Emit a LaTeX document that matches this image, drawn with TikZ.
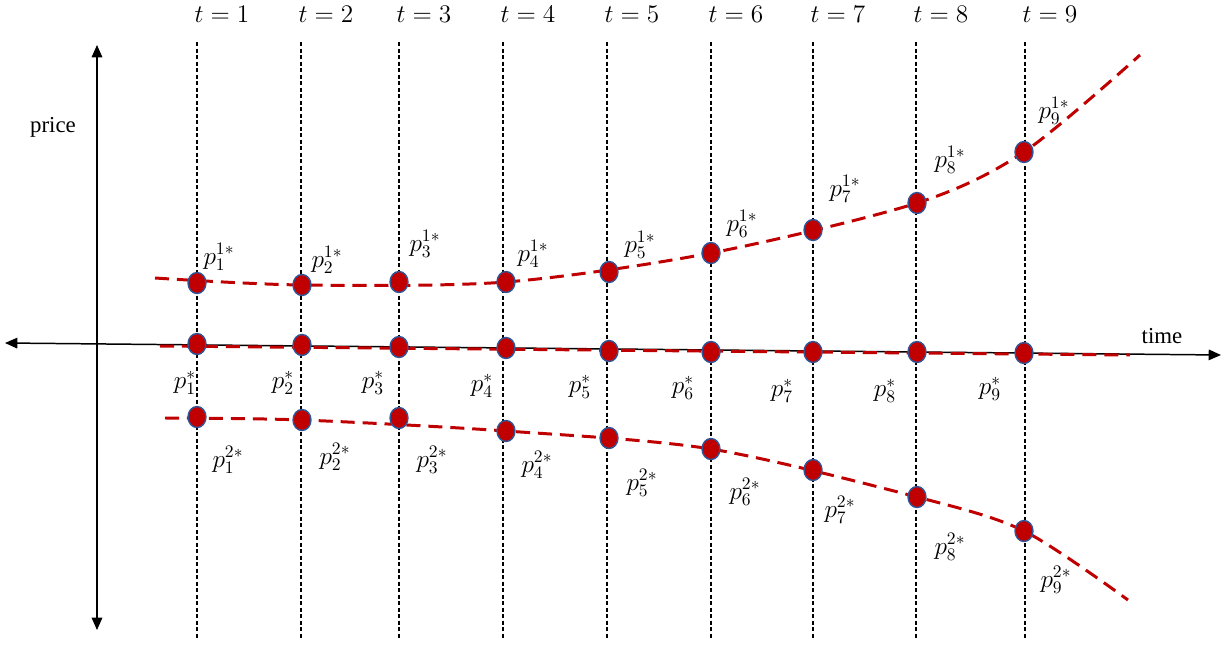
\documentclass[tikz,border=0pt]{standalone}
\usepackage{fontspec}
\usepackage{tikz}
\usetikzlibrary{arrows.meta,shapes.geometric}
\newfontfamily\tnr{Liberation Serif}
\definecolor{DotRed}{HTML}{C00000}
\definecolor{DotRim}{HTML}{2F5597}
\tikzset{
 dot/.style={ellipse, draw=DotRim, fill=DotRed, line width=0.8pt, minimum width=0.36cm, minimum height=0.42cm, inner sep=0pt},
 tline/.style={draw=black, line width=0.7pt, dash pattern=on 2.4pt off 1.3pt},
 axisline/.style={{Triangle[length=7pt,width=6pt]}-{Triangle[length=7pt,width=6pt]}, line width=0.85pt},
 redcurve/.style={draw=DotRed, line width=1.7pt, dash pattern=on 8pt off 4.5pt},
 plab/.style={inner sep=0pt, font=\fontsize{14.5}{17}\selectfont},
 wordlab/.style={inner sep=0pt, font=\tnr\fontsize{13}{15}\selectfont}
}
\begin{document}
\begin{tikzpicture}[x=0.02cm, y=-0.02cm]
\useasboundingbox (0,0) rectangle (1225,649);
% time slots
\foreach \i/\x in {1/197,2/301,3/399,4/503,5/607,6/711,7/813,8/916,9/1025}{
  \coordinate (top\i) at (\x,42);
  \coordinate (bot\i) at (\x,640);
  \draw[tline] (top\i) -- (bot\i);
  \node[plab] (t\i) at (\x+25,14) {$t=\i$};
}
% axes
\coordinate (pu) at (97,45);
\coordinate (pd) at (97,630);
\coordinate (tl) at (5,343);
\coordinate (tr) at (1221,355);
\draw[axisline] (pd) -- (pu);
\draw[axisline] (tl) -- (tr);
\node[wordlab] (price) at (53,127) {price};
\node[wordlab] (time) at (1162,336) {time};
% equilibrium points
\foreach \i/\x/\ya/\yb/\yc in {1/197/283/344/417,2/302/285/345/420,3/399/282/347/418,4/506/282/348/431,5/609/272/351/438,6/711/253/352/449,7/813/230/352/470,8/917/203/352/497,9/1024/152/353/531}{
  \coordinate (a\i) at (\x,\ya);
  \coordinate (b\i) at (\x,\yb);
  \coordinate (c\i) at (\x,\yc);
}
\coordinate (a0) at (155,278);
\coordinate (ae) at (1140,55);
\coordinate (b0) at (160,346);
\coordinate (be) at (1130,355);
\coordinate (c0) at (165,418);
\coordinate (ce) at (1128,600);
\draw[redcurve] plot[smooth] coordinates {(a0) (a2) (a4) (a6) (a8) (a9) (ae)};
\draw[redcurve] (b0) -- (be);
\draw[redcurve] plot[smooth] coordinates {(c0) (c2) (c4) (c6) (c8) (c9) (ce)};
\foreach \i in {1,...,9}{
  \node[dot] (da\i) at (a\i) {};
  \node[dot] (db\i) at (b\i) {};
  \node[dot] (dc\i) at (c\i) {};
}
% labels
\foreach \i/\x/\y in {1/219/257,2/327/260,3/425/244,4/533/254,5/640/245,6/742/224,7/845/189,8/950/160,9/1054/111}{
  \node[plab] (la\i) at (\x,\y) {$p_{\i}^{1*}$};
}
\foreach \i/\x/\y in {1/185/383,2/283/383,3/373/383,4/482/386,5/580/387,6/683/388,7/782/391,8/885/391,9/990/389}{
  \node[plab] (lb\i) at (\x,\y) {$p_{\i}^{*}$};
}
\foreach \i/\x/\y in {1/228/460,2/335/457,3/432/460,4/537/465,5/642/483,6/745/492,7/840/510,8/950/547,9/1056/580}{
  \node[plab] (lc\i) at (\x,\y) {$p_{\i}^{2*}$};
}
\end{tikzpicture}
\end{document}
